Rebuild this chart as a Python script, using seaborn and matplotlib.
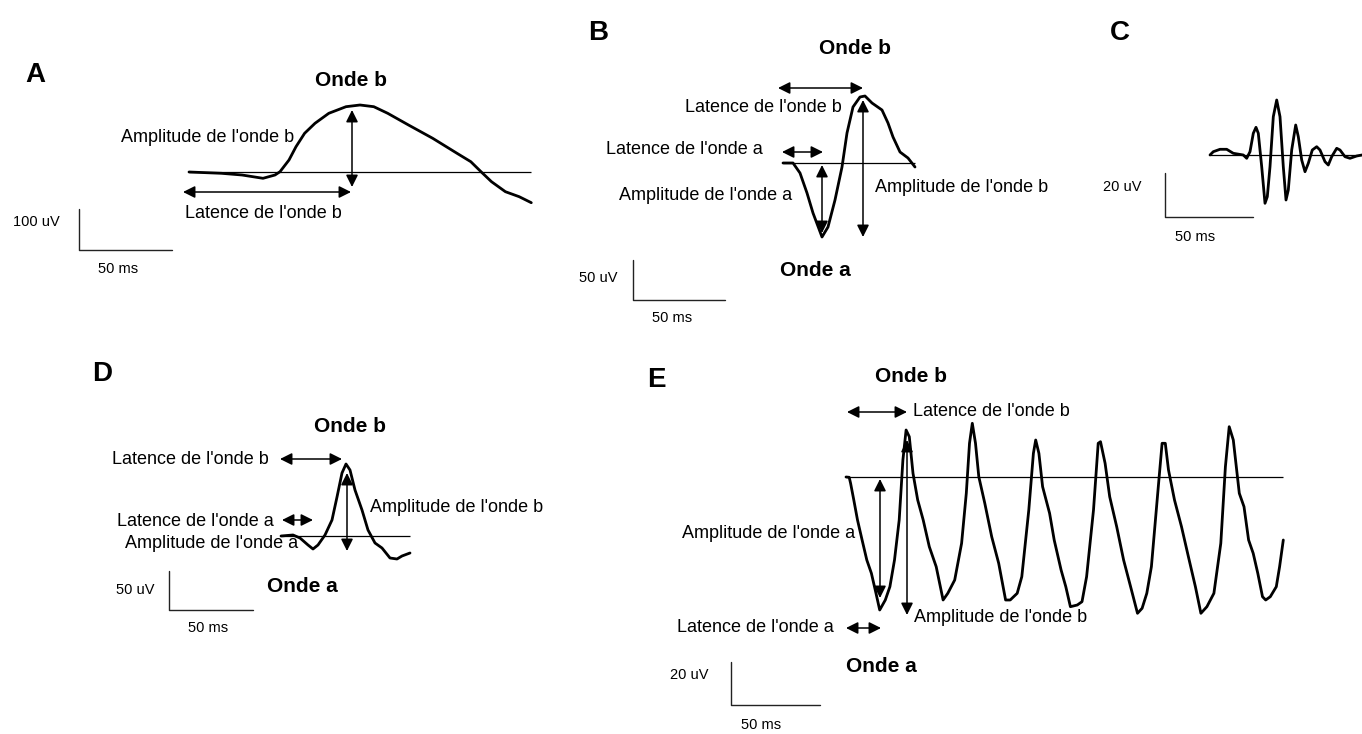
import matplotlib
matplotlib.use('Agg')
import matplotlib.pyplot as plt
import seaborn as sns

# ERG traces (x = time, y = potential, picture units, y grows downward)
a_x = [189, 221.5, 242, 263, 275, 280, 289, 296, 304.6, 315, 328.8, 346, 360, 373.8, 387.7,
       408.5, 432.7, 457, 470.8, 481, 491.5, 505.4, 519.2, 531.3]
a_y = [172, 173.3, 175, 178.3, 175, 171.7, 160, 146.7, 133.3, 123.3, 113.3, 106.7, 105, 106.7, 113.3,
       125, 138.3, 153.3, 161.7, 171.7, 181.7, 191.7, 196.7, 202.7]

b_x = [783, 793, 800, 807, 813, 822, 828, 835, 842, 847, 853, 860, 865, 872, 882, 888, 893, 900, 908, 915]
b_y = [163, 163, 173, 193, 213, 237, 227, 200, 167, 133, 107, 97, 96, 103, 110, 123, 137, 152, 158, 167]

c_x = [1210, 1213.3, 1220, 1226.7, 1233.3, 1243.3, 1246.7, 1250, 1253.3, 1256, 1258.3, 1261.7, 1265,
       1267.3, 1270, 1273.3, 1276.7, 1280, 1283.3, 1286, 1288.3, 1291.7, 1295.7, 1298.3, 1301.7, 1305,
       1308.3, 1312.3, 1316.7, 1320, 1325, 1328.3, 1331.7, 1336.7, 1340, 1345, 1350, 1356.7, 1362]
c_y = [155, 151.7, 149.3, 149.3, 153.3, 155, 158.3, 151.7, 133.3, 127.3, 133.3, 166.7, 203.3,
       196.7, 166.7, 116.7, 100, 116.7, 166.7, 200, 190, 150, 125, 136.7, 160, 171.7,
       163.3, 150, 146.7, 150, 161.7, 165, 156.7, 148.3, 150, 156.7, 158.3, 156, 155]

d_x = [281, 293, 300, 308, 313, 318, 325, 332, 337, 342, 346, 350, 355, 362, 368, 375, 382, 390, 397, 402, 410]
d_y = [536, 535, 538, 545, 549, 545, 535, 520, 497, 473, 464, 470, 490, 510, 530, 543, 548, 558, 559, 556, 553]

e_x = [846, 849.2, 850.6, 853.8, 857.5, 862.1, 866.8, 871.4, 876, 879.7, 885.3, 889.9, 894.5, 899.2,
       902.9, 906.1, 909.3, 913, 917.7, 923.2, 929.3, 936.2, 943.1, 947.8, 954.7, 961.6, 966.3, 969.5,
       972.3, 975.5, 978.8, 984.8, 991.7, 998.7, 1005.6, 1010.2, 1017.2, 1021.8, 1028.8, 1033.4, 1035.7,
       1038.9, 1042.6, 1049.6, 1054.2, 1061.1, 1065.8, 1070.4, 1077.3, 1082, 1086.6, 1093.5, 1098.2,
       1100.5, 1105.1, 1109.7, 1116.7, 1123.6, 1130.6, 1137.5, 1142.1, 1146.8, 1151.4, 1158.3, 1162.1,
       1165.3, 1168.5, 1174.5, 1181.5, 1188.4, 1195.4, 1200.9, 1206.9, 1213.9, 1220.8, 1225.4, 1229.2,
       1233.3, 1239.3, 1244, 1248.6, 1253.2, 1257.8, 1262.5, 1265.7, 1270.3, 1276.3, 1279.6, 1283.3]
e_y = [477, 477.3, 483.3, 500, 520, 540, 560, 573.3, 593.3, 610, 600, 586.7, 560, 520,
       460, 430, 436.7, 473.3, 500, 520, 546.7, 566.7, 600, 593.3, 580, 543.3, 493.3, 443.3,
       423.3, 443.3, 476.7, 503.3, 536.7, 563.3, 600, 600, 593.3, 576.7, 510, 453.3, 440,
       453.3, 486.7, 513.3, 540, 570, 586.7, 606.7, 605, 601.7, 576.7, 510, 443.3,
       441.7, 463.3, 496.7, 526.7, 560, 586.7, 613.3, 608.3, 593.3, 566.7, 486.7, 443.3,
       443.3, 470, 500, 526.7, 556.7, 586.7, 613.3, 606.7, 593.3, 543.3, 466.7, 426.7,
       440, 493.3, 506.7, 540, 553.3, 573.3, 596.7, 600, 596.7, 586.7, 566.7, 540]

traces = [(a_x, a_y), (b_x, b_y), (c_x, c_y), (d_x, d_y), (e_x, e_y)]

sns.set_theme(style='white')
plt.rcParams['font.family'] = ['Liberation Sans', 'DejaVu Sans']
plt.rcParams['text.color'] = 'black'

fig = plt.figure(figsize=(13.62, 7.34), dpi=100)
ax = fig.add_axes([0, 0, 1, 1])

for x, y in traces:
    sns.lineplot(x=x, y=y, sort=False, estimator=None, color='black', lw=2.0, ax=ax)
    ax.hlines(y[0], x[0], x[-1], color='black', lw=0.9)

# double headed measurement arrows
arrows = [
    ((183, 192), (351, 192)), ((352, 110), (352, 187)),
    ((778, 88), (863, 88)), ((782, 152), (823, 152)), ((822, 165), (822, 233)), ((863, 100), (863, 237)),
    ((280, 459), (342, 459)), ((282, 520), (313, 520)), ((347, 473), (347, 551)),
    ((847, 412), (907, 412)), ((846, 628), (881, 628)), ((880, 479), (880, 598)), ((907, 440), (907, 615)),
]
for p0, p1 in arrows:
    ax.annotate('', xy=p1, xytext=p0,
                arrowprops=dict(arrowstyle='<|-|>,head_length=0.6,head_width=0.3', color='black',
                                lw=1.1, mutation_scale=12, shrinkA=0, shrinkB=0))

# scale bars: (x, top, bottom, right)
bars = [(79, 209, 250, 172), (633, 260, 300, 725), (1165, 173, 217, 1253),
        (169, 571, 610, 253), (731, 662, 705, 820)]
for x0, yt, yb, x1 in bars:
    ax.plot([x0, x0, x1], [yt, yb, yb], color='#222222', lw=1.0)

lab = dict(fontsize=13, va='center', color='black')
big = dict(fontsize=15, fontweight='bold', ha='center', va='center', color='black')
small = dict(fontsize=10.5, ha='center', va='center', color='black')
panel = dict(fontsize=20, fontweight='bold', ha='center', va='center', color='black')

# A
ax.text(35, 75, 'A', **panel)
ax.text(351, 80, 'Onde b', **big)
ax.text(294, 137, "Amplitude de l'onde b", ha='right', **lab)
ax.text(185, 213, "Latence de l'onde b", ha='left', **lab)
ax.text(36, 222, '100 uV', **small)
ax.text(118, 269, '50 ms', **small)

# B
ax.text(598, 33, 'B', **panel)
ax.text(855, 49, 'Onde b', **big)
ax.text(842, 107, "Latence de l'onde b", ha='right', **lab)
ax.text(763, 150, "Latence de l'onde a", ha='right', **lab)
ax.text(792, 195, "Amplitude de l'onde a", ha='right', **lab)
ax.text(875, 188, "Amplitude de l'onde b", ha='left', **lab)
ax.text(815, 270, 'Onde a', **big)
ax.text(598, 278, '50 uV', **small)
ax.text(672, 318, '50 ms', **small)

# C
ax.text(1120, 33, 'C', **panel)
ax.text(1122, 187, '20 uV', **small)
ax.text(1195, 237, '50 ms', **small)

# D
ax.text(102, 374, 'D', **panel)
ax.text(350, 427, 'Onde b', **big)
ax.text(269, 459, "Latence de l'onde b", ha='right', **lab)
ax.text(274, 522, "Latence de l'onde a", ha='right', **lab)
ax.text(298, 543, "Amplitude de l'onde a", ha='right', **lab)
ax.text(370, 508, "Amplitude de l'onde b", ha='left', **lab)
ax.text(302, 587, 'Onde a', **big)
ax.text(135, 590, '50 uV', **small)
ax.text(208, 628, '50 ms', **small)

# E
ax.text(656, 380, 'E', **panel)
ax.text(911, 377, 'Onde b', **big)
ax.text(913, 412, "Latence de l'onde b", ha='left', **lab)
ax.text(855, 534, "Amplitude de l'onde a", ha='right', **lab)
ax.text(914, 617, "Amplitude de l'onde b", ha='left', **lab)
ax.text(834, 628, "Latence de l'onde a", ha='right', **lab)
ax.text(881, 667, 'Onde a', **big)
ax.text(689, 675, '20 uV', **small)
ax.text(761, 725, '50 ms', **small)

ax.set_xlim(0, 1362)
ax.set_ylim(734, 0)
ax.axis('off')

fig.savefig('out.png', dpi=100, facecolor='white')
